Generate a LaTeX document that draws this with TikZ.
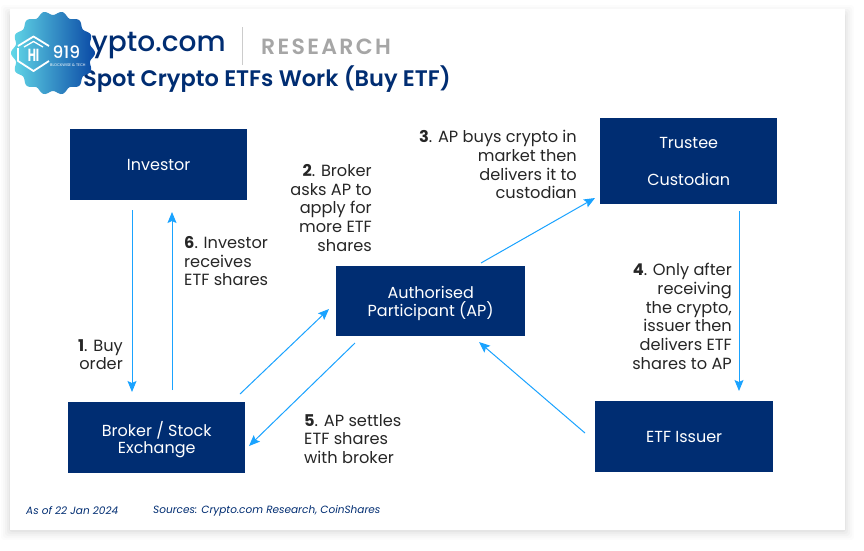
\documentclass[tikz,border=0pt]{standalone}
\usepackage{fontspec}
\setmainfont{Poppins}
\newfontfamily\medfont{Poppins Medium}
\newfontfamily\semifont{Poppins SemiBold}
\usetikzlibrary{arrows.meta,calc}
\definecolor{navy}{HTML}{002D72}
\definecolor{arrowblue}{HTML}{1AA3FF}
\definecolor{txt}{HTML}{262626}
\definecolor{bada}{HTML}{62D8E8}
\definecolor{badb}{HTML}{0A49A5}
\tikzset{x=1pt,y=-1pt,
 fbox/.style={fill=navy,text=white,font=\fontsize{16}{17.5}\selectfont,align=center,inner sep=0pt,anchor=north west},
 lowtext/.style={text depth=-0.5pt},
 flow/.style={draw=arrowblue,line width=1pt,-{Stealth[length=11pt,width=9pt,inset=2pt]}},
 capt/.style={text=txt,font=\fontsize{16.2}{18.8}\selectfont,inner sep=0pt},
 foot/.style={text=navy,font=\fontsize{10.5}{12}\selectfont\itshape,inner sep=0pt,anchor=west},
}
\begin{document}
\begin{tikzpicture}
\useasboundingbox (0,0) rectangle (864,550);
\fill[white] (0,0) rectangle (864,550);
\foreach \d/\o in {9/.012,7/.016,5/.02,3/.025,1/.03}{
  \fill[black,opacity=\o,rounded corners=3pt] (10-\d,14-\d) rectangle (845+\d,531+\d);}
\fill[white] (10,9) rectangle (845,530);
% header
\node[anchor=west,text=navy,inner sep=0pt,font=\fontsize{28}{32}\medfont] (brand) at (59,45) {Crypto.com};
\node[anchor=west,text=gray!70,inner sep=0pt,font=\fontsize{22}{26}\semifont\addfontfeature{LetterSpace=10.5}] (research) at (261,46.5) {RESEARCH};
\coordinate (sa) at (242.5,27); \coordinate (sb) at (242.5,65);
\draw[gray!40,line width=1pt] (sa) -- (sb);
\node[anchor=west,text=navy,inner sep=0pt,font=\fontsize{22.5}{26}\semifont] (title) at (83,79.5) {Spot Crypto ETFs Work (Buy ETF)};
% boxes
\node[fbox,lowtext,minimum width=177pt,minimum height=71pt] (inv) at (70,129) {Investor};
\node[fbox,minimum width=177pt,minimum height=86pt] (tru) at (600,118) {Trustee\\[19.5pt]Custodian};
\node[fbox,lowtext,minimum width=189pt,minimum height=70pt] (ap) at (336,266) {Authorised\\Participant (AP)};
\node[fbox,lowtext,minimum width=177pt,minimum height=71pt] (brk) at (68,402) {Broker / Stock\\Exchange};
\node[fbox,lowtext,minimum width=178pt,minimum height=71pt] (iss) at (595,401) {ETF Issuer};
% connector ends
\coordinate (a1) at (132,210); \coordinate (a2) at (132,392);
\coordinate (b1) at (172,390); \coordinate (b2) at (172,212);
\coordinate (c1) at (240,394); \coordinate (c2) at (329,309);
\coordinate (d1) at (355,343); \coordinate (d2) at (249,446);
\coordinate (e1) at (481,263); \coordinate (e2) at (595,198);
\coordinate (f1) at (739,211); \coordinate (f2) at (739,391);
\coordinate (g1) at (585,433); \coordinate (g2) at (479,342);
\foreach \p/\q in {a1/a2,b1/b2,c1/c2,d1/d2,e1/e2,f1/f2,g1/g2}{\draw[flow] (\p) -- (\q);}
% captions
\node[capt,align=right,anchor=north east] (t1) at (123,339) {\textbf{1}. Buy\\order};
\node[capt,align=left,anchor=north west] (t6) at (184,236) {\textbf{6}. Investor\\receives\\ETF shares};
\node[capt,align=right,anchor=north east] (t2) at (372,164) {\textbf{2}. Broker\\asks AP to\\apply for\\more ETF\\shares};
\node[capt,align=right,anchor=north east] (t3) at (577,130) {\textbf{3}. AP buys crypto in\\market then\\delivers it to\\custodian};
\node[capt,align=right,anchor=north east] (t4) at (732,263) {\textbf{4}. Only after\\receiving\\the crypto,\\issuer then\\delivers ETF\\shares to AP};
\node[capt,align=left,anchor=north west] (t5) at (304,414) {\textbf{5}. AP settles\\ETF shares\\with broker};
% footer
\node[foot] (f1t) at (26,510.5) {As of 22 Jan 2024};
\node[foot] (f2t) at (153,510.5) {Sources: Crypto.com Research, CoinShares};
% badge
\path[left color=bada,right color=badb]
  plot[domain=0:360,samples=169,smooth] ({53+40*cos(\x)+2*cos(\x)*cos(14*\x)},{53+40*sin(\x)+2*sin(\x)*cos(14*\x)}) -- cycle;
\draw[white,line width=1.8pt,line join=round] (18,46) -- (33.5,36.5) -- (49,46) (49,61) -- (33.5,71) -- (18,61) -- (18,48);
\draw[white,line width=1.3pt,line join=round] (24,47) -- (33.5,41.5) -- (43,47);
\node[text=white,inner sep=0pt,font=\fontsize{14}{16}\selectfont\bfseries] (hi) at (33.5,55) {\scalebox{.8}[1.25]{HI}};
\node[text=white,inner sep=0pt,anchor=west,font=\fontsize{17}{17}\medfont] (n919) at (52.5,52) {919};
\node[text=white,inner sep=0pt,anchor=west,font=\fontsize{3.8}{4}\selectfont] (tag) at (50,65) {BLOCKWISE \& TECH};
\end{tikzpicture}
\end{document}
